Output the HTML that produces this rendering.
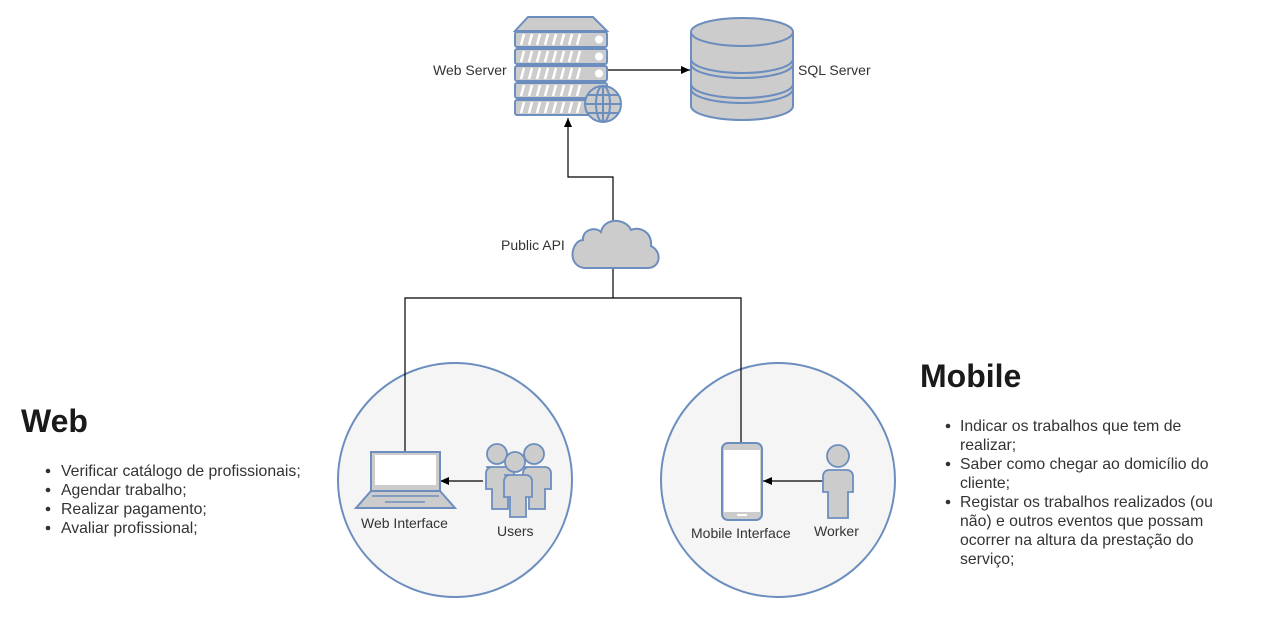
<!DOCTYPE html>
<html><head><meta charset="utf-8"><style>
body{margin:0;background:#fff;width:1262px;height:614px;overflow:hidden;font-family:"Liberation Sans",sans-serif}
</style></head><body>
<svg width="1262" height="614" viewBox="0 0 1262 614" xmlns="http://www.w3.org/2000/svg" font-family="Liberation Sans, sans-serif">
<defs><marker id="a" markerWidth="10" markerHeight="10" refX="9" refY="5" orient="auto" markerUnits="userSpaceOnUse"><path d="M0,1 L9,5 L0,9 Z" fill="#000"/></marker></defs>
<g stroke="#6c8ebf" stroke-width="2" fill="#f5f5f5">
<circle cx="455" cy="480" r="117"/>
<circle cx="778" cy="480" r="117"/>
</g>
<g stroke="#000" stroke-width="1.2" fill="none">
<path d="M613,298 V268"/>
<path d="M405,452 V298 H741 V443"/>
<path d="M613,220 V177 H568 V118" marker-end="url(#a)"/>
<path d="M607,70 H690" marker-end="url(#a)"/>
<path d="M483,481 H440" marker-end="url(#a)"/>
<path d="M823,481 H763" marker-end="url(#a)"/>
</g>
<g stroke="#6c8ebf" stroke-width="2" fill="#cccccc">
<path d="M528,17 H593 L607,31 H515 Z"/>
<rect x="515" y="32" width="92" height="15" rx="2"/>
<rect x="515" y="49" width="92" height="15" rx="2"/>
<rect x="515" y="66" width="92" height="15" rx="2"/>
<rect x="515" y="83" width="92" height="15" rx="2"/>
<rect x="515" y="100" width="92" height="15" rx="2"/>
</g>
<g stroke="#fff" stroke-width="2.5">
<path d="M521,45l3,-11M529,45l3,-11M537,45l3,-11M545,45l3,-11M553,45l3,-11M561,45l3,-11M569,45l3,-11M577,45l3,-11"/>
<path d="M521,62l3,-11M529,62l3,-11M537,62l3,-11M545,62l3,-11M553,62l3,-11M561,62l3,-11M569,62l3,-11M577,62l3,-11"/>
<path d="M521,79l3,-11M529,79l3,-11M537,79l3,-11M545,79l3,-11M553,79l3,-11M561,79l3,-11M569,79l3,-11M577,79l3,-11"/>
<path d="M521,96l3,-11M529,96l3,-11M537,96l3,-11M545,96l3,-11M553,96l3,-11M561,96l3,-11M569,96l3,-11M577,96l3,-11"/>
<path d="M521,113l3,-11M529,113l3,-11M537,113l3,-11M545,113l3,-11M553,113l3,-11M561,113l3,-11M569,113l3,-11M577,113l3,-11"/>
</g>
<g fill="#fff"><circle cx="599" cy="39.5" r="4"/><circle cx="599" cy="56.5" r="4"/><circle cx="599" cy="73.5" r="4"/></g>
<g stroke="#6c8ebf" stroke-width="2" fill="#cccccc">
<circle cx="603" cy="104" r="18"/>
<ellipse cx="603" cy="104" rx="7" ry="18" fill="none"/>
<path d="M585,104H621M588,95H618M588,113H618M603,86V122" fill="none"/>
</g>
<g stroke="#6c8ebf" stroke-width="2" fill="#cccccc">
<path d="M691,32 V106 A51,14 0 0 0 793,106 V32"/>
<ellipse cx="742" cy="32" rx="51" ry="14"/>
<path d="M691,59 A51,14 0 0 0 793,59 M691,64 A51,14 0 0 0 793,64 M691,84 A51,14 0 0 0 793,84 M691,89 A51,14 0 0 0 793,89" fill="none"/>
</g>
<path d="M584,268 H648 C660,268 663,252 651,246 C652,232 640,226 631,230 C626,218 604,217 601,232 C595,226 582,230 583,240 C572,240 566,265 584,268 Z" fill="#cccccc" stroke="#6c8ebf" stroke-width="2"/>
<g stroke="#6c8ebf" stroke-width="2">
<rect x="371" y="452" width="69" height="39" fill="#cccccc"/>
<rect x="375" y="455" width="61" height="30" fill="#fff" stroke="none"/>
<path d="M371,491 H440 L455,508 H356 Z" fill="#cccccc"/>
<path d="M372,496H439M385,502H425" fill="none" stroke-width="1.5"/>
</g>
<g stroke="#6c8ebf" stroke-width="1.8" fill="#cccccc">
<circle cx="497" cy="454" r="10"/><circle cx="534" cy="454" r="10"/>
<path d="M486,467h22a6,6 0 0 1 6,6v16h-6v20h-16v-20h-6v-16a6,6 0 0 1 6,-6z"/>
<path d="M523,467h22a6,6 0 0 1 6,6v16h-6v20h-16v-20h-6v-16a6,6 0 0 1 6,-6z"/>
<circle cx="515" cy="462" r="10"/>
<path d="M504,475h22a6,6 0 0 1 6,6v16h-6v20h-16v-20h-6v-16a6,6 0 0 1 6,-6z"/>
</g>
<g stroke="#6c8ebf" stroke-width="2">
<rect x="722" y="443" width="40" height="77" rx="6" fill="#cccccc"/>
<rect x="724" y="450" width="36" height="62" fill="#fff" stroke="none"/>
<rect x="737" y="514" width="10" height="2" fill="#fff" stroke="none"/>
</g>
<g stroke="#6c8ebf" stroke-width="1.8" fill="#cccccc">
<circle cx="838" cy="456" r="11"/>
<path d="M829,470h18a6,6 0 0 1 6,6v16h-5v26h-20v-26h-5v-16a6,6 0 0 1 6,-6z"/>
</g>
<g font-size="14" fill="#333">
<text x="433" y="75">Web Server</text>
<text x="798" y="75">SQL Server</text>
<text x="501" y="250">Public API</text>
<text x="361" y="528">Web Interface</text>
<text x="497" y="536">Users</text>
<text x="691" y="538">Mobile Interface</text>
<text x="814" y="536">Worker</text>
</g>
<g fill="#1a1a1a">
<text x="21" y="432" font-size="32" font-weight="bold">Web</text>
<text x="920" y="387" font-size="32" font-weight="bold">Mobile</text>
</g>
<g font-size="15.8" fill="#333">
<circle cx="48" cy="471" r="2.3"/><text x="61" y="476">Verificar catálogo de profissionais;</text>
<circle cx="48" cy="490" r="2.3"/><text x="61" y="495">Agendar trabalho;</text>
<circle cx="48" cy="509" r="2.3"/><text x="61" y="514">Realizar pagamento;</text>
<circle cx="48" cy="528" r="2.3"/><text x="61" y="533">Avaliar profissional;</text>
<circle cx="948" cy="426" r="2.3"/><text x="960" y="431">Indicar os trabalhos que tem de</text>
<text x="960" y="450">realizar;</text>
<circle cx="948" cy="464" r="2.3"/><text x="960" y="469">Saber como chegar ao domicílio do</text>
<text x="960" y="488">cliente;</text>
<circle cx="948" cy="502" r="2.3"/><text x="960" y="507">Registar os trabalhos realizados (ou</text>
<text x="960" y="526">não) e outros eventos que possam</text>
<text x="960" y="545">ocorrer na altura da prestação do</text>
<text x="960" y="564">serviço;</text>
</g>
</svg>
</body></html>
